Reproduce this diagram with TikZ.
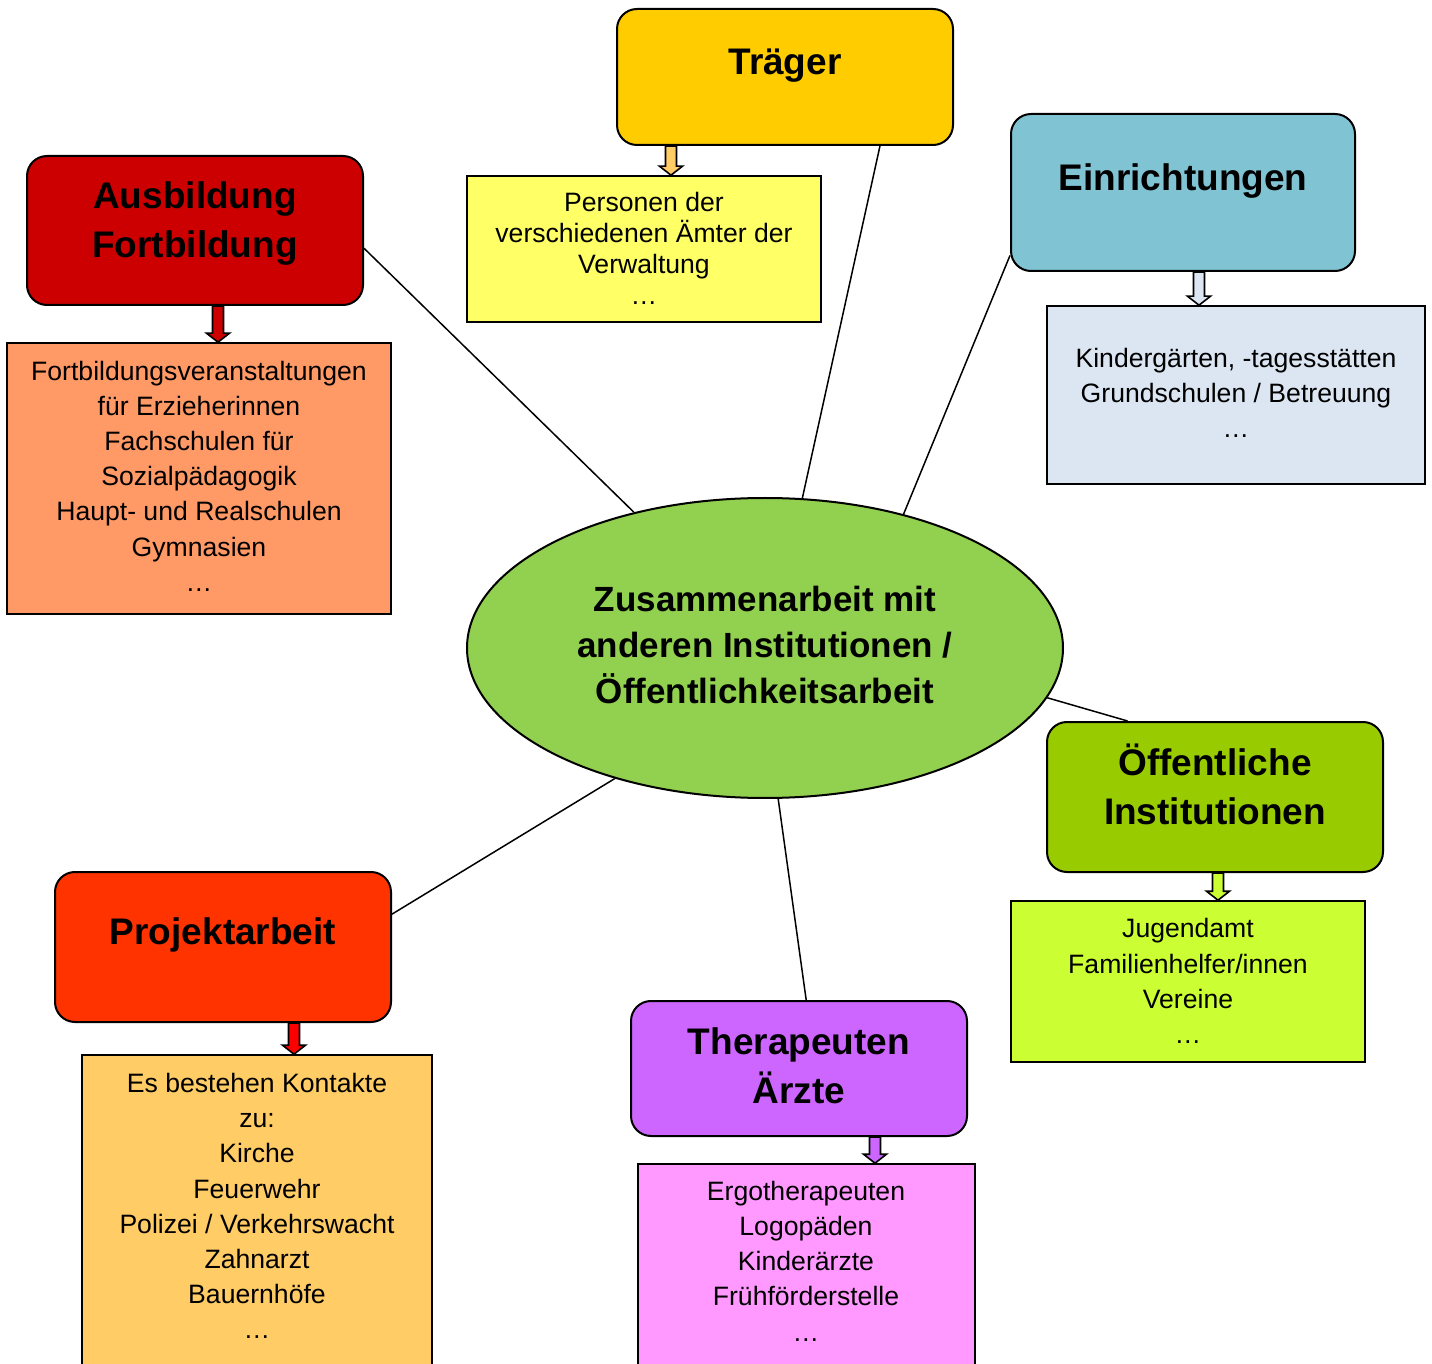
\documentclass[tikz,border=0pt]{standalone}
\usepackage{fontspec}
\setmainfont{Liberation Sans}
\usetikzlibrary{shapes.geometric,calc}
\definecolor{cTrg}{HTML}{FFCC00}
\definecolor{cTrgS}{HTML}{FFFF66}
\definecolor{cTrgA}{HTML}{FFCC66}
\definecolor{cAus}{HTML}{CC0000}
\definecolor{cAusS}{HTML}{FF9966}
\definecolor{cEin}{HTML}{80C4D4}
\definecolor{cEinS}{HTML}{DCE6F2}
\definecolor{cEll}{HTML}{92D050}
\definecolor{cOef}{HTML}{99CC00}
\definecolor{cOefS}{HTML}{CCFF33}
\definecolor{cPrj}{HTML}{FF3300}
\definecolor{cPrjS}{HTML}{FFCC66}
\definecolor{cPrjA}{HTML}{FF0000}
\definecolor{cThr}{HTML}{CC66FF}
\definecolor{cThrS}{HTML}{FF99FF}
\tikzset{
  titlebox/.style={draw, line width=1pt, rounded corners=10pt, inner sep=0pt},
  subbox/.style={draw, line width=0.8pt, inner sep=0pt},
  titletext/.style={font=\fontsize{18.5}{24.5}\selectfont\bfseries, align=center, inner sep=0pt},
  bodytext/.style={font=\fontsize{13.3}{17.6}\selectfont, align=center, inner sep=0pt},
  conn/.style={line width=0.75pt},
  arrbox/.style={line width=0.8pt, line join=miter},
}
\newcommand\barr[4]{%
  \draw[arrbox, fill=#1] let \p1=(#3.south), \p2=(#4.north) in
    ({#2*0.5pt-2.75pt},\y1) -- ({#2*0.5pt+2.75pt},\y1) -- ({#2*0.5pt+2.75pt},\y2+4.5pt)
    -- ({#2*0.5pt+5.75pt},\y2+4.5pt) -- ({#2*0.5pt},\y2) -- ({#2*0.5pt-5.75pt},\y2+4.5pt)
    -- ({#2*0.5pt-2.75pt},\y2+4.5pt) -- cycle;}
\begin{document}
\begin{tikzpicture}[x=0.5pt,y=-0.5pt]
\useasboundingbox (0,0) rectangle (1432,1364);
% central ellipse
\node[ellipse, draw, line width=1pt, fill=cEll, minimum width=298pt, minimum height=150pt, inner sep=0pt] (ell) at (765,648) {};
\node[font=\fontsize{17.5}{23}\selectfont\bfseries, align=center, inner sep=0pt] (ellt) at (765,645)
  {Zusammenarbeit mit\\anderen Institutionen /\\Öffentlichkeitsarbeit};
% boxes
\node[titlebox, fill=cTrg, minimum width=168pt, minimum height=68pt] (trg) at (785,77) {};
\node[subbox, fill=cTrgS, minimum width=177pt, minimum height=73pt] (trgs) at (644,249) {};
\node[titlebox, fill=cAus, minimum width=168pt, minimum height=74.5pt] (aus) at (195,230.5) {};
\node[subbox, fill=cAusS, minimum width=192pt, minimum height=135.5pt] (auss) at (199,478.5) {};
\node[titlebox, fill=cEin, minimum width=172pt, minimum height=78.5pt] (ein) at (1183,192.5) {};
\node[subbox, fill=cEinS, minimum width=189pt, minimum height=89pt] (eins) at (1236,395) {};
\node[titlebox, fill=cOef, minimum width=168pt, minimum height=75pt] (oef) at (1215,797) {};
\node[subbox, fill=cOefS, minimum width=177pt, minimum height=80.5pt] (oefs) at (1188,981.5) {};
\node[titlebox, fill=cPrj, minimum width=168pt, minimum height=75pt] (prj) at (223,947) {};
\node[subbox, fill=cPrjS, minimum width=175pt, minimum height=157.5pt] (prjs) at (257,1212.5) {};
\node[titlebox, fill=cThr, minimum width=168pt, minimum height=67.5pt] (thr) at (799,1068.5) {};
\node[subbox, fill=cThrS, minimum width=168.5pt, minimum height=103pt] (thrs) at (806.5,1267) {};
% titles
\node[titletext] (trgt) at (785,66) {Träger};
\node[titletext] (aust) at (195,224) {Ausbildung\\Fortbildung};
\node[titletext] (eint) at (1183,181) {Einrichtungen};
\node[titletext] (oeft) at (1215,784) {Öffentliche\\Institutionen};
\node[titletext] (prjt) at (223,935) {Projektarbeit};
\node[titletext] (thrt) at (799,1066) {Therapeuten\\Ärzte};
% body texts
\node[bodytext, font=\fontsize{13.3}{15.5}\selectfont] (trgb) at (644,248) {Personen der\\verschiedenen Ämter der\\Verwaltung\\…};
\node[bodytext] (ausb) at (199,476) {Fortbildungsveranstaltungen\\für Erzieherinnen\\Fachschulen für\\Sozialpädagogik\\Haupt- und Realschulen\\Gymnasien\\…};
\node[bodytext] (einb) at (1236,393) {Kindergärten, -tagesstätten\\Grundschulen / Betreuung\\…};
\node[bodytext] (oefb) at (1188,981) {Jugendamt\\Familienhelfer/innen\\Vereine\\…};
\node[bodytext] (prjb) at (257,1206) {Es bestehen Kontakte\\zu:\\Kirche\\Feuerwehr\\Polizei / Verkehrswacht\\Zahnarzt\\Bauernhöfe\\…};
\node[bodytext] (thrb) at (806,1261) {Ergotherapeuten\\Logopäden\\Kinderärzte\\Frühförderstelle\\…};
% connectors
\draw[conn] (aus.-6.6) -- (ell.134.6);
\draw[conn] (trg.-36.3) -- (ell.76.5);
\draw[conn] (ein.200.85) -- (ell.44.8);
\draw[conn] (oef.139.2) -- (ell.-10.25);
\draw[conn] (prj.11.4) -- (ell.221.5);
\draw[conn] (thr.84.3) -- (ell.-85.4);
% block arrows
\barr{cTrgA}{671}{trg}{trgs}
\barr{cAus}{218}{aus}{auss}
\barr{cEinS}{1199}{ein}{eins}
\barr{cOefS}{1218}{oef}{oefs}
\barr{cPrjA}{294}{prj}{prjs}
\barr{cThr}{875}{thr}{thrs}
\end{tikzpicture}
\end{document}
